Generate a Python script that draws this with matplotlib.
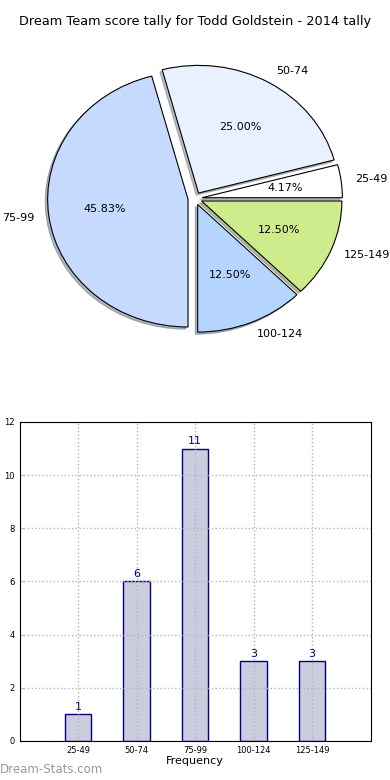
import matplotlib
matplotlib.use('Agg')
import matplotlib.pyplot as plt
import numpy as np

# data
ranges = ['25-49', '50-74', '75-99', '100-124', '125-149']
counts = [1, 6, 11, 3, 3]
pie_colors = ['#ffffff', '#e9f1fe', '#c6d9fe', '#b5d5fe', '#cfec8c']
title = 'Dream Team score tally for Todd Goldstein - 2014 tally'

fig = plt.figure(figsize=(3.9, 7.8), dpi=100)
fig.subplots_adjust(left=0.05, right=0.95, top=0.95, bottom=0.05, hspace=0.2)

#===========================
# pie of the tally
#===========================
ax1 = fig.add_subplot(2, 1, 1)
explode = [0.05] * len(counts)
wedges, texts, autotexts = ax1.pie(counts, labels=ranges, colors=pie_colors,
                                   explode=explode, autopct='%1.2f%%',
                                   shadow={'ox': -0.012, 'oy': -0.012, 'shade': 0.5},
                                   wedgeprops={'edgecolor': 'black', 'linewidth': 0.8},
                                   textprops={'fontsize': 8})
ax1.set_aspect('auto')
ax1.set_xlim(-1.25, 1.25)
ax1.set_ylim(-1.25, 1.25)
ax1.set_title(title, fontsize=9.3, pad=10)

#===========================
# bar chart of the tally
#===========================
ax2 = fig.add_subplot(2, 1, 2)
xpos = np.arange(1, len(counts) + 1)
bars = ax2.bar(xpos, counts, width=0.45, color='#ccccdf', edgecolor='#000080',
               linewidth=1.0, zorder=2)
for x, c in zip(xpos, counts):
    ax2.text(x, c + 0.1, str(c), ha='center', va='bottom', color='#000080', fontsize=8)
ax2.set_xlim(0, 6)
ax2.set_ylim(0, 12)
ax2.set_xticks(xpos)
ax2.set_xticklabels(ranges)
ax2.set_yticks(range(0, 13, 2))
ax2.tick_params(labelsize=6, direction='in', length=3, color='#bbbbbb')
ax2.grid(True, linestyle=':', color='#b4b4b4', linewidth=1.0, zorder=3)
ax2.set_axisbelow(False)
for sp in ax2.spines.values():
    sp.set_zorder(5)
ax2.set_xlabel('Frequency', fontsize=8, labelpad=1)
ax2.set_ylabel('Score Count', fontsize=8, labelpad=8)

fig.text(0.0, 0.005, 'Dream-Stats.com', fontsize=8.5, color='#999999',
         ha='left', va='bottom')

fig.savefig('out.png', dpi=100)
